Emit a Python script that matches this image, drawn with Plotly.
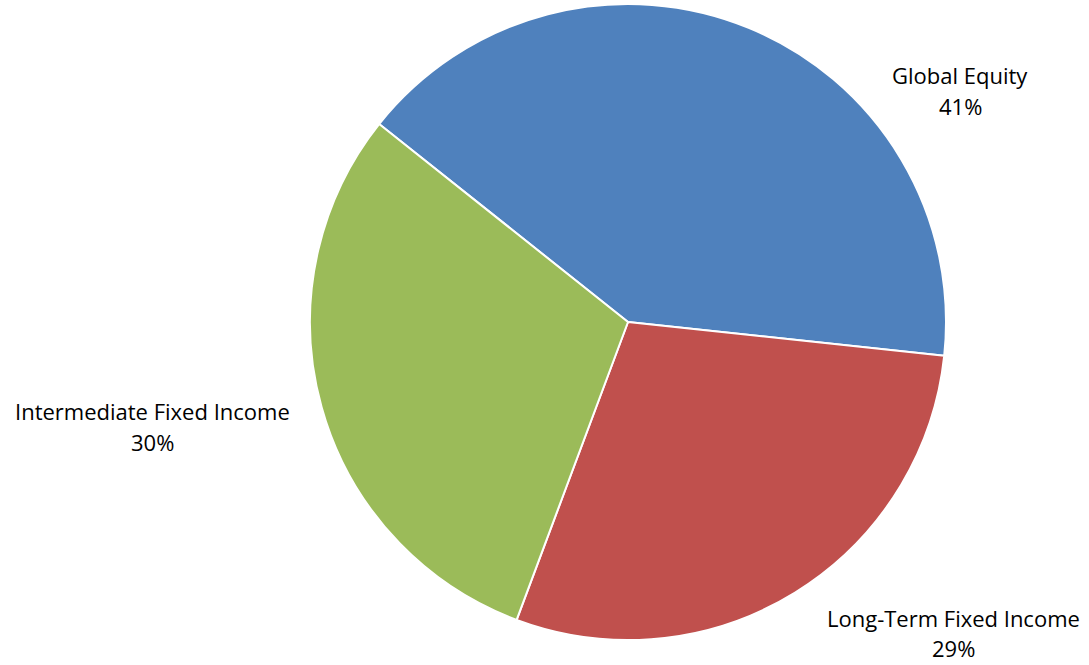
import plotly.graph_objects as go

# Portfolio allocation
categories = ["Global Equity", "Long-Term Fixed Income", "Intermediate Fixed Income"]
values = [41, 29, 30]
colors = ["#4F81BD", "#C0504D", "#9BBB59"]

W, H = 1089, 665

fig = go.Figure(
    go.Pie(
        labels=categories,
        values=values,
        sort=False,
        direction="clockwise",
        rotation=-51.5,
        marker=dict(colors=colors, line=dict(color="white", width=2)),
        textinfo="none",
        hoverinfo="label+percent",
        domain=dict(x=[310 / W, 946 / W], y=[1 - 640 / H, 1 - 4 / H]),
        showlegend=False,
    )
)

# Category name and percentage, drawn as two lines beside each slice
total = sum(values)
label_pos = {
    "Global Equity": (960, 75, 106),
    "Long-Term Fixed Income": (953, 618, 648),
    "Intermediate Fixed Income": (152, 411, 442),
}
font = dict(family="Open Sans", size=22, color="#000000")
for cat, val in zip(categories, values):
    px, py1, py2 = label_pos[cat]
    for text, py in ((cat, py1), (f"{round(100 * val / total)}%", py2)):
        fig.add_annotation(
            x=px / W,
            y=1 - py / H,
            xref="paper",
            yref="paper",
            text=text,
            showarrow=False,
            xanchor="center",
            yanchor="middle",
            font=font,
        )

fig.update_layout(
    width=W,
    height=H,
    margin=dict(l=0, r=0, t=0, b=0),
    paper_bgcolor="white",
    plot_bgcolor="white",
)

fig.write_html("out.html")
